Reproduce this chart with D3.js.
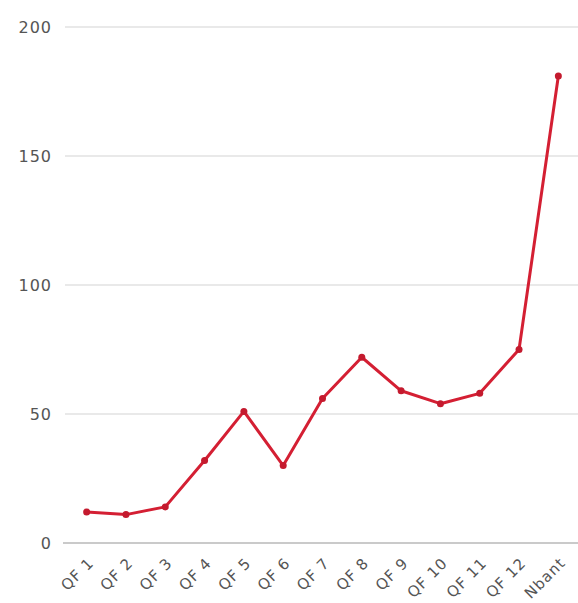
<!DOCTYPE html>
<html>
<head>
<meta charset="utf-8">
<script src="https://cdn.jsdelivr.net/npm/d3@7"></script>
<style>
  body { margin: 0; background: #fff; }
  text { font-family: "DejaVu Sans", sans-serif; }
</style>
</head>
<body>
<div id="chart"></div>
<script>
const categories = ["QF 1", "QF 2", "QF 3", "QF 4", "QF 5", "QF 6", "QF 7", "QF 8", "QF 9", "QF 10", "QF 11", "QF 12", "Nbant"]
const values = [12, 11, 14, 32, 51, 30, 56, 72, 59, 54, 58, 75, 181]
const yTicks = [0, 50, 100, 150, 200]

const width = 578
const height = 603
const margin = { top: 27, right: 0, bottom: 60, left: 67 }

const svg = d3.select("#chart")
  .append("svg")
  .attr("width", width)
  .attr("height", height)

const x = d3.scaleBand()
  .domain(categories)
  .range([margin.left, width - margin.right])

const y = d3.scaleLinear()
  .domain([0, 200])
  .range([height - margin.bottom, margin.top])

// grid
svg.append("g")
  .selectAll("line")
  .data(yTicks.filter(d => d > 0))
  .enter()
    .append("line")
    .attr("x1", margin.left - 2)
    .attr("x2", width)
    .attr("y1", d => y(d))
    .attr("y2", d => y(d))
    .attr("stroke", "#e2e2e2")
    .attr("stroke-width", 1.5)

svg.append("line")
  .attr("x1", margin.left - 4)
  .attr("x2", width)
  .attr("y1", y(0))
  .attr("y2", y(0))
  .attr("stroke", "#b8b8b8")
  .attr("stroke-width", 1.5)

// y labels
svg.append("g")
  .selectAll("text")
  .data(yTicks)
  .enter()
    .append("text")
    .attr("x", 52)
    .attr("y", d => y(d))
    .attr("dy", "0.35em")
    .attr("text-anchor", "end")
    .attr("fill", "#555")
    .attr("font-size", 16)
    .attr("letter-spacing", 1)
    .text(d => d)

// x labels
const cx = d => x(d) + x.bandwidth() / 2

svg.append("g")
  .selectAll("text")
  .data(categories)
  .enter()
    .append("text")
    .attr("text-anchor", "end")
    .attr("transform", d => `translate(${cx(d) + 8},${y(0) + 21}) rotate(-45)`)
    .attr("fill", "#555")
    .attr("font-size", 15)
    .attr("letter-spacing", 1)
    .text(d => d)

// line
const line = d3.line()
  .x((d, i) => cx(categories[i]))
  .y(d => y(d))

svg.append("path")
  .attr("d", line(values))
  .attr("fill", "none")
  .attr("stroke", "#d41f33")
  .attr("stroke-width", 3)
  .attr("stroke-linejoin", "round")

svg.selectAll("circle.dot")
  .data(values)
  .enter()
    .append("circle")
    .attr("class", "dot")
    .attr("cx", (d, i) => cx(categories[i]))
    .attr("cy", d => y(d))
    .attr("r", 3.5)
    .attr("fill", "#c41a2e")
</script>
</body>
</html>
